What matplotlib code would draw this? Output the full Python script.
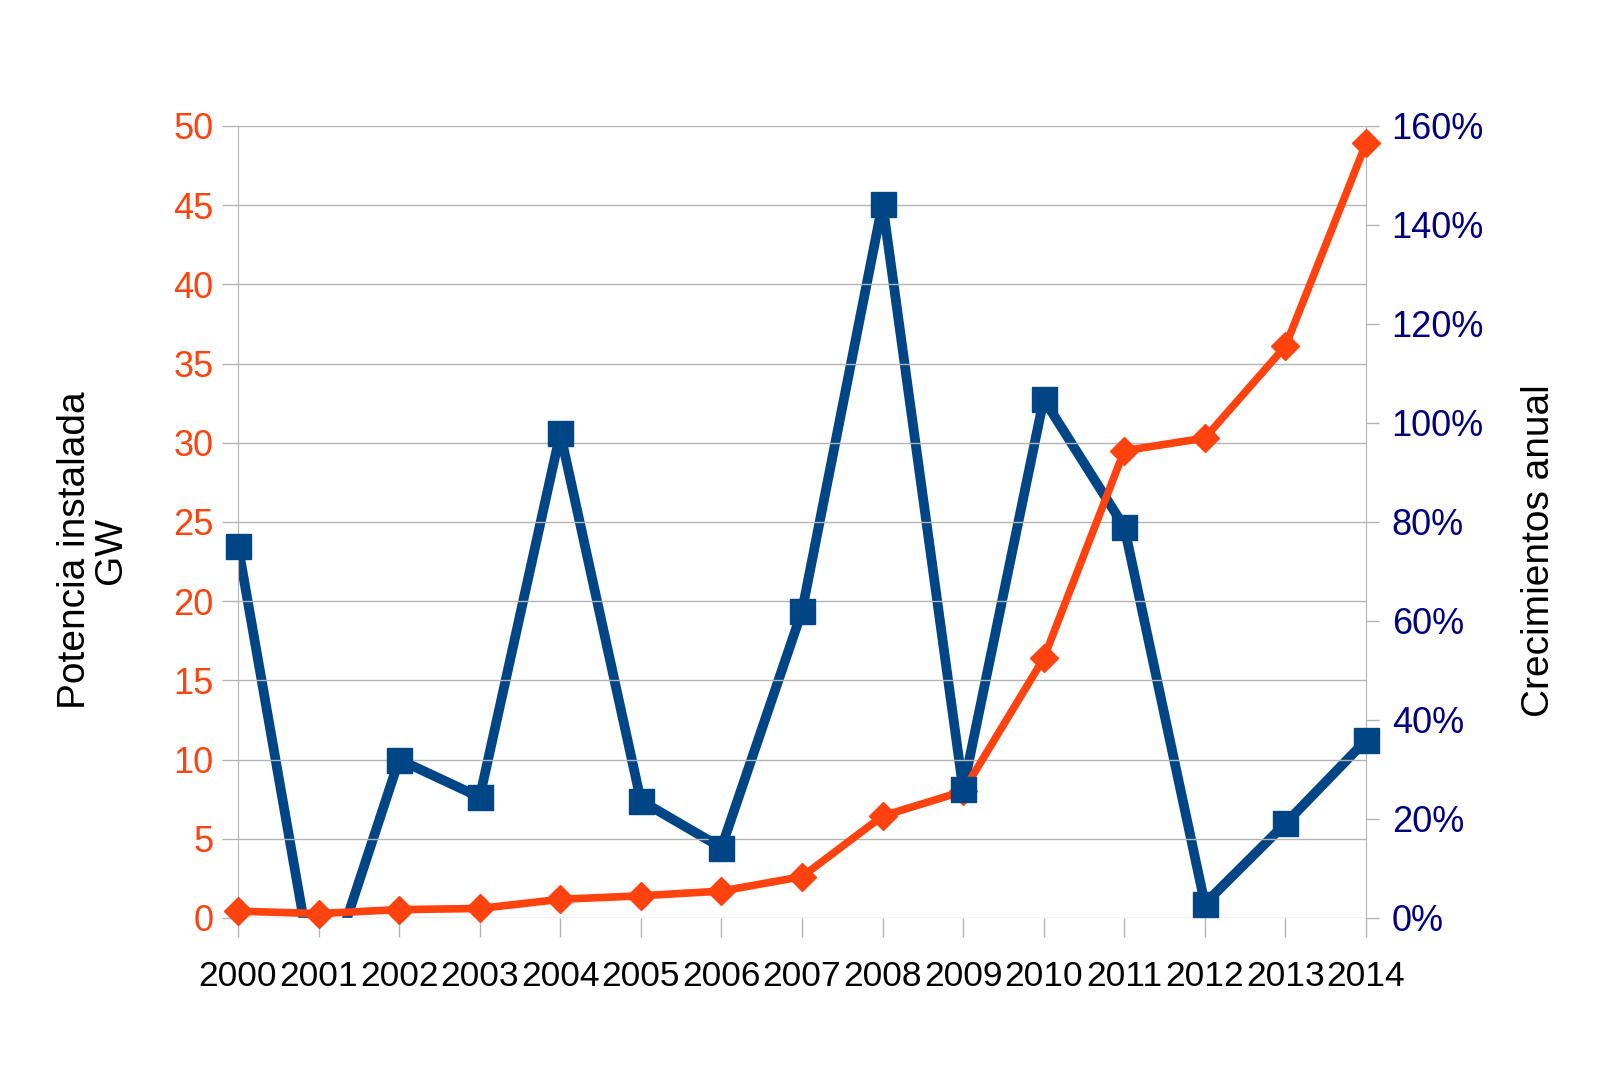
import numpy as np
import matplotlib
matplotlib.use('Agg')
import matplotlib.pyplot as plt
from matplotlib.ticker import FuncFormatter

plt.rcParams['font.family'] = ['Liberation Sans', 'DejaVu Sans']

# data
years = [2000, 2001, 2002, 2003, 2004, 2005, 2006, 2007, 2008, 2009, 2010, 2011, 2012, 2013, 2014]
potencia_gw = [0.43, 0.28, 0.53, 0.6, 1.18, 1.4, 1.7, 2.61, 6.44, 8.0, 16.39, 29.5, 30.3, 36.1, 48.9]
crecimiento_pct = [75.2, -17.5, 32.0, 24.4, 97.9, 23.7, 14.2, 62.0, 144.3, 26.0, 104.8, 79.0, 2.9, 19.1, 35.9]

left_ticks = np.arange(0, 51, 5)
right_ticks = np.arange(0, 161, 20)

orange = '#ff420e'
blue = '#004586'
navy = '#000080'
grey = '#b3b3b3'

fig = plt.figure(figsize=(16, 10.69), dpi=100)
ax = fig.add_axes([0.14875, 0.14126, 0.705, 0.74088])
ax2 = ax.twinx()

# left axis on top so the orange line covers the blue one
ax.set_zorder(ax2.get_zorder() + 1)
ax.patch.set_visible(False)

# blue growth line (clipped at 0%)
ax2.plot(years, crecimiento_pct, color=blue, lw=7, solid_joinstyle='round', zorder=2)

# orange installed power
ax.plot(years, potencia_gw, color=orange, lw=5.5, marker='D', ms=14, mec=orange, mfc=orange,
        solid_joinstyle='round', zorder=3, clip_on=False)

# blue squares drawn above everything, hide the ones outside the axis range
crec = np.ma.masked_less(np.array(crecimiento_pct), 0)
ax.plot(years, crec, ls='none', marker='s', ms=18, color=blue, transform=ax2.transData,
        zorder=4, clip_on=False)

ax.set_xlim(years[0], years[-1])
ax.set_ylim(0, 50)
ax2.set_ylim(0, 160)

ax.set_xticks(years)
ax.set_xticklabels([str(y) for y in years], fontsize=25.5, color='black')
ax.set_yticks(left_ticks)
ax.set_yticklabels([str(v) for v in left_ticks], fontsize=26, color=orange)
ax2.set_yticks(right_ticks)
ax2.yaxis.set_major_formatter(FuncFormatter(lambda v, p: '{:.0f}%'.format(v)))
for lab in ax2.get_yticklabels():
    lab.set_fontsize(26)
    lab.set_color(navy)

ax.grid(axis='y', color=grey, lw=1.0)
ax.set_axisbelow(True)

ax.tick_params(axis='x', length=14, width=1.0, color=grey, pad=16)
ax.tick_params(axis='y', length=11.5, width=1.0, color=grey, pad=6)
ax2.tick_params(axis='y', length=9.5, width=1.0, color=grey, pad=9)

for a in (ax, ax2):
    for side in ('top', 'bottom'):
        a.spines[side].set_visible(False)
    a.spines['left'].set_color(grey)
    a.spines['right'].set_color(grey)
ax.spines['right'].set_visible(False)
ax2.spines['left'].set_visible(False)

fig.text(0.058, 0.4855, 'Potencia instalada\nGW', rotation=90, ha='center', va='center',
         multialignment='center', fontsize=28, linespacing=1.0, color='black')
fig.text(0.9618, 0.4846, 'Crecimientos anual', rotation=90, ha='center', va='center',
         fontsize=28, color='black')

fig.savefig('out.png', dpi=100, facecolor='white')
